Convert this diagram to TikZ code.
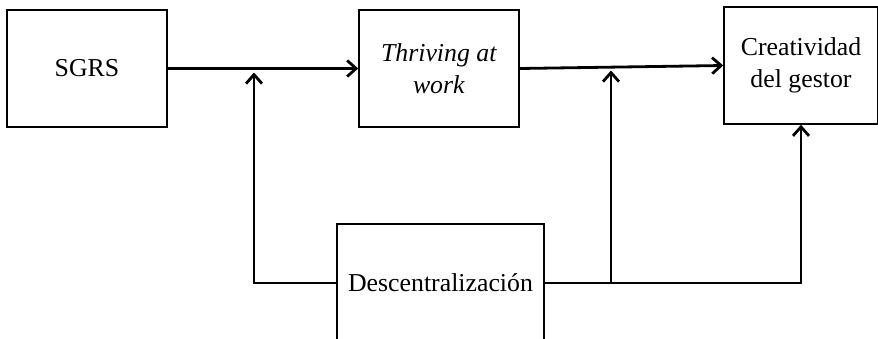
\documentclass[tikz,border=0pt]{standalone}
\usepackage{fontspec}
\setmainfont{Liberation Serif}
\usetikzlibrary{arrows.meta}

\begin{document}
\begin{tikzpicture}[x=0.5pt, y=-0.5pt,
    caja/.style={draw, line width=0.75pt, minimum width=80pt, minimum height=58.5pt,
        inner sep=0pt, align=center, font=\fontsize{12.9}{16}\selectfont},
    flecha/.style={line width=1.4pt, -{Straight Barb[length=4.5pt,width=8pt]}}]
    \useasboundingbox (0,0) rectangle (878,338);
    % cajas
    \node[caja] (sgrs) at (87,68.5) {SGRS};
    \node[caja] (thriving) at (439,68.5) {\textit{Thriving at}\\\textit{work}};
    \node[caja, minimum width=77pt] (creatividad) at (801,65.5) {Creatividad\\del gestor};
    \node[caja, minimum width=103.5pt, minimum height=59pt] (descentral) at (440.5,283) {Descentralización};
    % puntos de moderacion
    \coordinate (mod1) at (254,72.5);
    \coordinate (mod2) at (611,70.5);
    % flechas
    \draw[flecha] (sgrs) -- (thriving);
    \draw[flecha] (thriving.east) -- (creatividad.west);
    \draw[flecha] (descentral.west) -| (mod1);
    \draw[flecha] (descentral.east) -| (mod2);
    \draw[flecha] (descentral.east) -| (creatividad.south);
\end{tikzpicture}
\end{document}
